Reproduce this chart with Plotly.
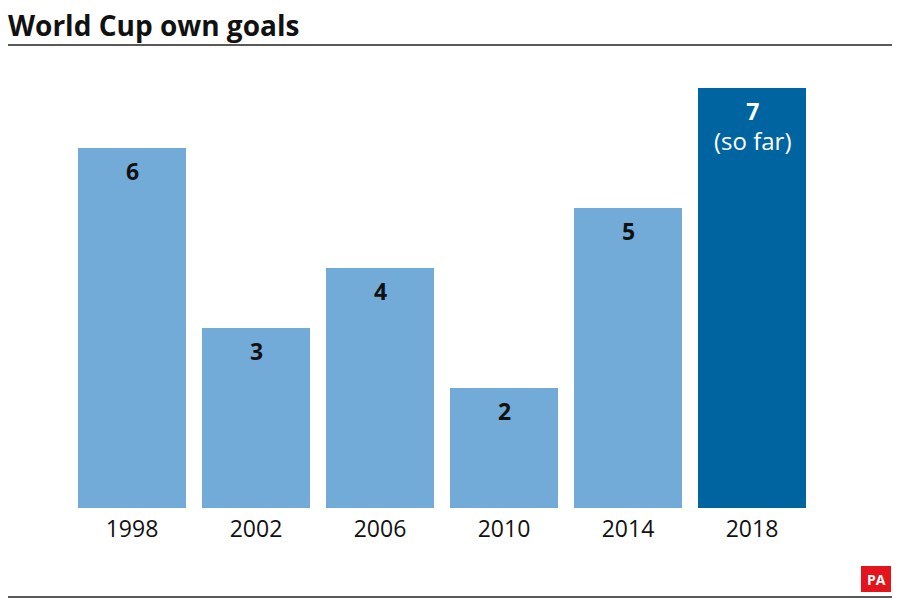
import plotly.graph_objects as go

years = ["1998", "2002", "2006", "2010", "2014", "2018"]
own_goals = [6, 3, 4, 2, 5, 7]
labels = ["6", "3", "4", "2", "5",
          "7<br><span style='font-weight:normal;font-size:24px'>(so far)</span>"]
bar_colors = ["#72abd7", "#72abd7", "#72abd7", "#72abd7", "#72abd7", "#0064a0"]
label_colors = ["#111111", "#111111", "#111111", "#111111", "#111111", "#ffffff"]

FONT = "Open Sans, Noto Sans, sans-serif"

# plot area in pixels
L, R, T, B = 70, 814, 88, 508
W, H = R - L, B - T


def px(x):
    return (x - L) / W


def py(y):
    return (B - y) / H


fig = go.Figure()
fig.add_trace(go.Bar(
    x=years, y=own_goals,
    marker=dict(color=bar_colors, line=dict(width=0)),
    hoverinfo="skip",
))

annotations = []
for i, (v, lab, col) in enumerate(zip(own_goals, labels, label_colors)):
    annotations.append(dict(
        x=i, y=v, xref="x", yref="y", text="<b>" + lab + "</b>",
        showarrow=False, yanchor="top", yshift=-5,
        font=dict(family=FONT, size=23, color=col),
    ))

annotations.append(dict(
    x=px(6), y=py(4), xref="paper", yref="paper",
    xanchor="left", yanchor="top", showarrow=False,
    text="<b>World Cup own goals</b>",
    font=dict(family=FONT, size=28, color="#111111"),
))
annotations.append(dict(
    x=px(876), y=py(579), xref="paper", yref="paper",
    xanchor="center", yanchor="middle", showarrow=False,
    text="<b>PA</b>", font=dict(family=FONT, size=14, color="#ffffff"),
))

shapes = [
    dict(type="line", xref="paper", yref="paper", x0=px(8), x1=px(892),
         y0=py(45), y1=py(45), line=dict(color="#222222", width=1.5)),
    dict(type="line", xref="paper", yref="paper", x0=px(8), x1=px(892),
         y0=py(597), y1=py(597), line=dict(color="#222222", width=1.5)),
    dict(type="rect", xref="paper", yref="paper", x0=px(861), x1=px(891),
         y0=py(592), y1=py(566), fillcolor="#e3141b", line=dict(width=0)),
]

fig.update_layout(
    width=900, height=600,
    margin=dict(l=L, r=900 - R, t=T, b=600 - B, pad=0),
    paper_bgcolor="#ffffff", plot_bgcolor="#ffffff",
    bargap=16 / 124,
    showlegend=False,
    xaxis=dict(type="category", range=[-0.5, len(years) - 0.5], showgrid=False,
               showline=False, ticks="", zeroline=False, ticklabelstandoff=5,
               tickfont=dict(family=FONT, size=23, color="#111111")),
    yaxis=dict(range=[0, 7], visible=False, showgrid=False, zeroline=False),
    annotations=annotations,
    shapes=shapes,
)

fig.write_html("out.html", config={"displayModeBar": False},
               post_script="document.body.style.margin='0';document.body.style.overflow='hidden';")
